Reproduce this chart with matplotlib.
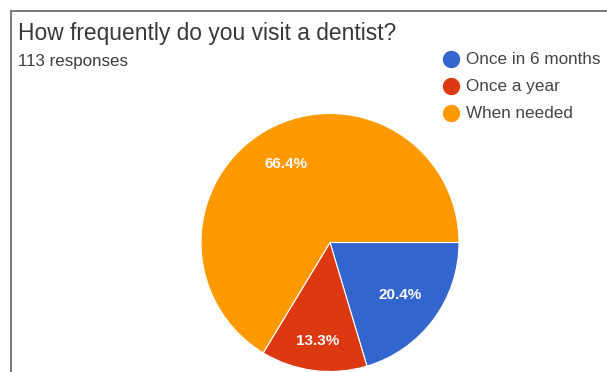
import matplotlib
matplotlib.use("Agg")
import numpy as np
import matplotlib.pyplot as plt
from matplotlib.lines import Line2D

plt.rcParams['font.family'] = ['Liberation Sans', 'DejaVu Sans']

title = "How frequently do you visit a dentist?"
subtitle = "113 responses"
categories = ["Once in 6 months", "Once a year", "When needed"]
shares = [20.4, 13.3, 66.4]
colors = ["#3366CC", "#DC3912", "#FF9900"]
# radial position of each percentage label, as a fraction of the radius
label_radius = [0.68, 0.77, 0.70]

W, H = 607, 372
fig = plt.figure(figsize=(W / 100, H / 100), dpi=100)

# frame lines along the top and left edges
fig.add_artist(Line2D([11 / W, 1], [1 - 10.5 / H, 1 - 10.5 / H], color="#6f6f6f", lw=1.3))
fig.add_artist(Line2D([11 / W, 11 / W], [0, 1 - 10.5 / H], color="#6f6f6f", lw=1.3))

fig.text(18 / W, 1 - 40 / H, title, fontsize=16.4, color="#383838", ha="left", va="baseline")
fig.text(18 / W, 1 - 66 / H, subtitle, fontsize=12.2, color="#3c3c3c", ha="left", va="baseline")

# pie area: centre (330, 242.5) px, radius 129 px
cx, cy, r = 330, 242.5, 129
ax = fig.add_axes([(cx - r) / W, (H - cy - r) / H, 2 * r / W, 2 * r / H])
wedges, _ = ax.pie(
    shares, colors=colors, startangle=0, counterclock=False,
    wedgeprops=dict(edgecolor="white", linewidth=0.8),
)
for w, val, rr in zip(wedges, shares, label_radius):
    mid = np.deg2rad((w.theta1 + w.theta2) / 2)
    ax.text(rr * np.cos(mid), rr * np.sin(mid), f"{val:.1f}%",
            color="#fbfbfb", fontsize=11, fontweight="bold",
            ha="center", va="center")
ax.set_xlim(-1, 1)
ax.set_ylim(-1, 1)
ax.axis("off")

# legend with circle markers
for i, (lab, col) in enumerate(zip(categories, colors)):
    y = 1 - (59 + i * 27.2) / H
    fig.add_artist(Line2D([450.5 / W], [y], marker="o", markersize=11.5,
                          color=col, linestyle="none"))
    fig.text(466.5 / W, y, lab, fontsize=12.3, color="#444444", ha="left", va="center")

fig.savefig("out.png", dpi=100)
